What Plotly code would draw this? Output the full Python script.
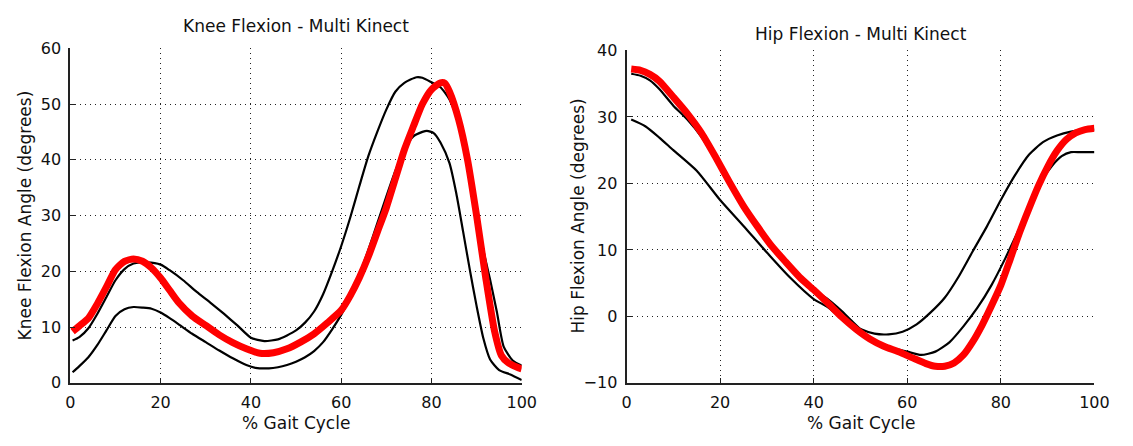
import plotly.graph_objects as go

# ---- Knee flexion (left panel) ----
knee_red_x = [0.5, 2, 4, 6, 8, 10, 12, 14, 16, 18, 20, 22, 24, 27, 30, 33, 36, 39, 42, 45, 48, 51, 54, 57,
              60, 62, 64, 66, 68, 70, 72, 74, 76, 78, 80, 82, 83, 84, 86, 88, 90, 92, 94, 95.5, 97, 99, 100]
knee_red_y = [9.2, 10.2, 11.6, 14.2, 17.2, 20.3, 21.8, 22.2, 21.8, 20.6, 18.8, 16.6, 14.4, 12.0, 10.3, 8.6,
              7.2, 6.1, 5.3, 5.4, 6.1, 7.3, 8.8, 10.8, 13.0, 15.6, 18.8, 22.6, 27.0, 31.4, 36.6, 41.8, 46.0,
              50.0, 52.6, 53.8, 53.7, 52.2, 47.3, 40.0, 30.0, 19.0, 9.2, 4.9, 3.6, 2.8, 2.5]

knee_upper_x = [0.5, 2, 4, 6, 8, 10, 12, 14, 17, 20, 22, 25, 28, 31, 34, 37, 40, 43, 46, 48, 50, 52, 54,
                56, 58, 60, 62, 64, 66, 68, 70, 72, 74, 76.7, 78, 80, 82, 84, 86, 88, 90, 91.5, 93, 94.5,
                96, 98, 100]
knee_upper_y = [7.6, 8.2, 9.8, 12.4, 15.4, 18.4, 20.4, 21.4, 21.6, 21.2, 20.2, 18.4, 16.3, 14.4, 12.4,
                10.3, 8.1, 7.5, 7.8, 8.5, 9.4, 10.8, 12.8, 15.9, 20.0, 24.5, 29.6, 35.2, 40.6, 45.0, 49.0,
                52.2, 53.8, 54.8, 54.7, 53.9, 53.0, 50.8, 46.5, 39.5, 30.5, 23.8, 18.5, 12.7, 6.5, 4.0,
                3.1]

knee_lower_x = [0.5, 2, 4, 6, 8, 10, 12, 14, 16, 18, 20, 22, 24, 27, 30, 33, 36, 39, 41, 44, 46, 48, 50,
                52, 54, 56, 58, 60, 62, 64, 66, 68, 70, 72, 74, 76, 78, 79, 80.5, 82, 84, 85.5, 87, 88.5,
                90, 91.5, 93, 95, 97.5, 100]
knee_lower_y = [1.9, 3.0, 4.6, 6.8, 9.4, 12.0, 13.2, 13.6, 13.5, 13.3, 12.6, 11.6, 10.5, 8.8, 7.3, 5.8,
                4.4, 3.2, 2.7, 2.6, 2.8, 3.2, 3.8, 4.6, 5.7, 7.3, 9.6, 12.2, 15.2, 19.3, 23.8, 28.6, 33.4,
                38.0, 41.8, 44.2, 45.0, 45.2, 44.8, 43.1, 39.4, 34.0, 27.2, 20.3, 13.8, 8.0, 4.2, 2.3,
                1.5, 0.5]

# ---- Hip flexion (right panel) ----
hip_red_x = [1, 3, 5, 7, 10, 13, 16, 19, 22, 25, 28, 31, 34, 37, 40, 43, 46, 49, 52, 55, 58, 61, 64, 66,
             68, 70, 72, 74, 76, 78, 80, 82, 84, 86, 88, 90, 92, 94, 96, 98, 100]
hip_red_y = [37.2, 37.0, 36.4, 35.4, 33.0, 30.5, 27.6, 24.0, 20.2, 16.6, 13.5, 10.6, 8.2, 5.9, 4.0, 2.0,
             -0.1, -1.9, -3.4, -4.5, -5.3, -6.2, -7.1, -7.5, -7.5, -7.0, -5.8, -3.8, -1.3, 1.6, 4.7,
             8.6, 12.6, 16.2, 19.6, 22.5, 24.9, 26.6, 27.6, 28.1, 28.3]

hip_a_x = [1, 3, 5, 7, 10, 13, 16, 19, 22, 25, 28, 31, 34, 37, 40, 43, 46, 48, 51, 54, 57, 60, 63, 66,
           69, 72, 75, 78, 81, 84, 87, 89, 91, 93, 95, 97, 100]
hip_a_y = [36.5, 36.2, 35.5, 34.2, 31.7, 29.6, 27.0, 23.6, 19.8, 16.3, 13.1, 10.3, 7.9, 5.8, 4.0, 2.6,
           0.8, -0.6, -2.6, -4.0, -4.8, -5.3, -5.8, -5.3, -3.9, -1.5, 1.3, 4.7, 8.8, 13.3, 17.8, 20.7,
           22.7, 24.1, 24.7, 24.7, 24.7]

hip_b_x = [1, 4, 7, 10, 15, 20, 25, 30, 35, 40, 43, 46, 50, 53, 56, 59, 62, 65, 68, 71, 74, 77, 80, 83,
           86, 89, 92, 95, 97, 100]
hip_b_y = [29.6, 28.6, 26.9, 25.0, 21.9, 17.5, 13.6, 9.6, 5.8, 2.6, 1.4, -0.3, -1.9, -2.6, -2.7, -2.3,
           -1.2, 0.6, 2.8, 6.0, 9.8, 13.5, 17.5, 21.2, 24.3, 26.2, 27.2, 27.8, 28.0, 28.1]

x_ticks = [0, 20, 40, 60, 80, 100]
knee_y_ticks = [0, 10, 20, 30, 40, 50, 60]
hip_y_ticks = [-10, 0, 10, 20, 30, 40]

FONT = "DejaVu Sans, Liberation Sans, sans-serif"
W, H = 1133, 446

fig = go.Figure()


def add_line(x, y, xa, ya, color, width):
    fig.add_trace(go.Scatter(x=x, y=y, xaxis=xa, yaxis=ya, mode="lines",
                             line=dict(color=color, width=width, shape="spline", smoothing=0.6),
                             showlegend=False, hoverinfo="skip"))


add_line(knee_upper_x, knee_upper_y, "x", "y", "black", 2.2)
add_line(knee_lower_x, knee_lower_y, "x", "y", "black", 2.2)
add_line(knee_red_x, knee_red_y, "x", "y", "#ff0000", 7)

add_line(hip_a_x, hip_a_y, "x2", "y2", "black", 2.2)
add_line(hip_b_x, hip_b_y, "x2", "y2", "black", 2.2)
add_line(hip_red_x, hip_red_y, "x2", "y2", "#ff0000", 7)

axis_common = dict(
    showgrid=True, gridcolor="#222222", griddash="1px,4px", gridwidth=1,
    zeroline=False, showline=True, linecolor="#222222", linewidth=2,
    ticks="inside", ticklen=5, tickcolor="#222222", tickwidth=1,
    ticklabelstandoff=4,
    tickfont=dict(family=FONT, size=16, color="#111111"),
    mirror=False, fixedrange=True,
)

fig.update_layout(
    width=W, height=H,
    margin=dict(l=0, r=0, t=0, b=0),
    paper_bgcolor="white", plot_bgcolor="white",
    xaxis=dict(domain=[66.5 / W, 526 / W], range=[0, 100], tickvals=x_ticks, anchor="y",
               **axis_common),
    yaxis=dict(domain=[1 - 390.5 / H, 1 - 41 / H], range=[0, 60], tickvals=knee_y_ticks,
               anchor="x", **axis_common),
    xaxis2=dict(domain=[632.7 / W, 1109 / W], range=[0, 100], tickvals=x_ticks, anchor="y2",
                **axis_common),
    yaxis2=dict(domain=[1 - 390.5 / H, 1 - 43.3 / H], range=[-10, 40], tickvals=hip_y_ticks,
                anchor="x2", **axis_common),
)

text_font = dict(family=FONT, size=17, color="#111111")
annotations = [
    dict(text="Knee Flexion - Multi Kinect", x=296 / W, y=1 - 18 / H),
    dict(text="Hip Flexion - Multi Kinect", x=871 / W, y=1 - 26 / H),
    dict(text="% Gait Cycle", x=296 / W, y=1 - 432 / H),
    dict(text="% Gait Cycle", x=871 / W, y=1 - 432 / H),
    dict(text="Knee Flexion Angle (degrees)", x=20 / W, y=1 - 216 / H, textangle=-90),
    dict(text="Hip Flexion Angle (degrees)", x=583 / W, y=1 - 216 / H, textangle=-90),
]
for a in annotations:
    fig.add_annotation(xref="paper", yref="paper", showarrow=False, xanchor="center",
                       yanchor="middle", font=text_font, **a)

fig.write_html("out.html")
